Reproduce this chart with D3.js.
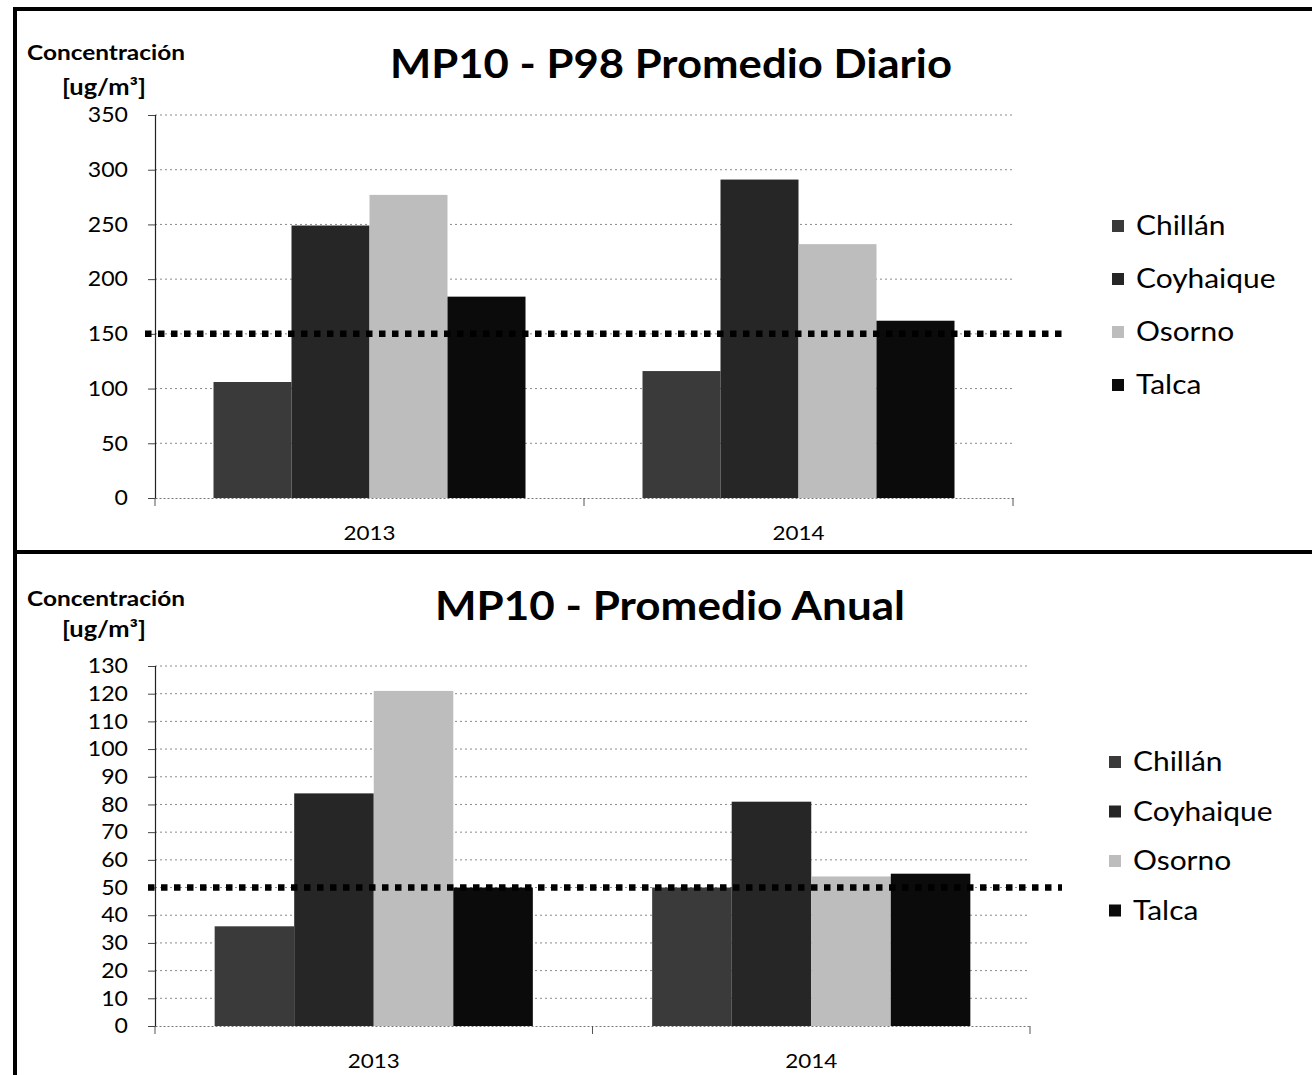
<!DOCTYPE html>
<html><head><meta charset="utf-8">
<script src="https://cdn.jsdelivr.net/npm/d3@7"></script>
<style>body{margin:0;background:#fff}svg{display:block}text{font-family:Lato,"Open Sans",sans-serif;fill:#000}</style>
</head><body>
<svg id="c" width="1312" height="1075"></svg>
<script>
// ---------- data ----------
const categories = ["2013", "2014"];
const seriesNames = ["Chillán", "Coyhaique", "Osorno", "Talca"];
const seriesColors = ["#3a3a3a", "#262626", "#bdbdbd", "#0b0b0b"];

const p98Chillan   = [106, 116];
const p98Coyhaique = [249, 291];
const p98Osorno    = [277, 232];
const p98Talca     = [184, 162];
const p98Ticks     = [0, 50, 100, 150, 200, 250, 300, 350];
const p98Norma     = 150;

const anualChillan   = [36, 50];
const anualCoyhaique = [84, 81];
const anualOsorno    = [121, 54];
const anualTalca     = [50, 55];
const anualTicks     = [0, 10, 20, 30, 40, 50, 60, 70, 80, 90, 100, 110, 120, 130];
const anualNorma     = 50;

const yTitle1 = "Concentración";
const yTitle2 = "[ug/m³]";

// ---------- drawing ----------
const svg = d3.select("#c");
svg.append("rect").attr("width", 1312).attr("height", 1075).attr("fill", "#fff");

function stretch(sel, f) {
  sel.each(function () {
    const w = this.getComputedTextLength();
    d3.select(this).attr("textLength", w * f).attr("lengthAdjust", "spacingAndGlyphs");
  });
}

function drawChart(cfg) {
  const g = svg.append("g");
  const table = categories.map((c, i) => ({
    cat: c,
    vals: cfg.series.map((arr, s) => ({ name: seriesNames[s], v: arr[i], color: seriesColors[s] }))
  }));
  const y = d3.scaleLinear().domain([0, d3.max(cfg.ticks)]).range([cfg.y0, cfg.yTop]);
  const x0 = d3.scaleBand().domain(categories).range([cfg.xL, cfg.xR]).padding(0);
  const barW = x0.bandwidth() / 5.5;
  const x1 = d3.scaleBand().domain(seriesNames).range([barW * 0.75, barW * 4.75]).padding(0);

  // gridlines
  g.append("g").selectAll("line").data(cfg.ticks.filter(t => t > 0)).join("line")
    .attr("x1", cfg.xL).attr("x2", cfg.xR)
    .attr("y1", d => y(d)).attr("y2", d => y(d))
    .attr("stroke", "#8a8a8a").attr("stroke-width", 1).attr("stroke-dasharray", "2,3");

  // bars
  const grp = g.append("g").selectAll("g").data(table).join("g")
    .attr("transform", d => `translate(${x0(d.cat)},0)`);
  grp.selectAll("rect").data(d => d.vals).join("rect")
    .attr("x", d => x1(d.name)).attr("width", x1.bandwidth())
    .attr("y", d => y(d.v)).attr("height", d => y(0) - y(d.v))
    .attr("fill", d => d.color);

  // y axis
  const ya = d3.axisLeft(y).tickValues(cfg.ticks).tickSize(7).tickPadding(20);
  const yg = g.append("g").attr("transform", `translate(${cfg.xL},0)`).call(ya);
  yg.select(".domain").attr("stroke", "#222").attr("stroke-width", 1.2);
  yg.selectAll(".tick line").attr("stroke", "#444");
  yg.selectAll("text").attr("font-size", 21).attr("font-family", "Lato,sans-serif").attr("fill", "#000");
  stretch(yg.selectAll("text"), 1.1);

  // x axis
  const xa = d3.axisBottom(x0).tickSize(0).tickPadding(28);
  const xg = g.append("g").attr("transform", `translate(0,${cfg.y0})`).call(xa);
  xg.select(".domain").attr("stroke", "#777").attr("stroke-dasharray", "2,2");
  xg.selectAll("text").attr("font-size", 20).attr("font-family", "Lato,sans-serif").attr("fill", "#000");
  stretch(xg.selectAll("text"), 1.12);
  const bounds = [cfg.xL, ...categories.map(c => x0(c) + x0.bandwidth())];
  xg.append("g").selectAll("line").data(bounds).join("line")
    .attr("x1", d => d).attr("x2", d => d).attr("y1", 0).attr("y2", 8)
    .attr("stroke", "#555");

  // threshold dotted line
  g.append("line")
    .attr("x1", cfg.normX1).attr("x2", cfg.normX2)
    .attr("y1", y(cfg.norma)).attr("y2", y(cfg.norma))
    .attr("stroke", "#000").attr("stroke-width", 6.5).attr("stroke-dasharray", "6.5,6.5");

  // titles
  g.append("text").attr("x", cfg.titleX).attr("y", cfg.titleY)
    .attr("text-anchor", "middle").attr("font-size", 40).attr("font-weight", 700)
    .attr("textLength", cfg.titleW).attr("lengthAdjust", "spacingAndGlyphs")
    .text(cfg.title);
  g.append("text").attr("x", 106).attr("y", cfg.ytY1).attr("text-anchor", "middle")
    .attr("font-size", 20).attr("font-weight", 700).attr("textLength", 158).attr("lengthAdjust", "spacingAndGlyphs")
    .text(yTitle1);
  g.append("text").attr("x", 104).attr("y", cfg.ytY2).attr("text-anchor", "middle")
    .attr("font-size", 22).attr("font-weight", 700).attr("textLength", 84).attr("lengthAdjust", "spacingAndGlyphs")
    .text(yTitle2);

  // legend
  const lg = g.append("g").selectAll("g").data(seriesNames).join("g")
    .attr("transform", (d, i) => `translate(${cfg.legX},${cfg.legY0 + i * cfg.legStep})`);
  lg.append("rect").attr("x", 0).attr("y", -6).attr("width", 12).attr("height", 12)
    .attr("fill", (d, i) => seriesColors[i]);
  const lt = lg.append("text").attr("x", 24).attr("y", 9).attr("font-size", 26).text(d => d);
  stretch(lt, 1.15);
}

drawChart({
  series: [p98Chillan, p98Coyhaique, p98Osorno, p98Talca], ticks: p98Ticks, norma: p98Norma,
  y0: 498, yTop: 115, xL: 155, xR: 1013, normX1: 145, normX2: 1062,
  title: "MP10 - P98 Promedio Diario", titleX: 671, titleY: 78, titleW: 562,
  ytY1: 60, ytY2: 95, legX: 1112, legY0: 226, legStep: 53
});
drawChart({
  series: [anualChillan, anualCoyhaique, anualOsorno, anualTalca], ticks: anualTicks, norma: anualNorma,
  y0: 1026, yTop: 666, xL: 155, xR: 1030, normX1: 148, normX2: 1062,
  title: "MP10 - Promedio Anual", titleX: 670, titleY: 620, titleW: 470,
  ytY1: 606, ytY2: 637, legX: 1109, legY0: 762, legStep: 49.5
});

// frame
svg.append("line").attr("x1", 15).attr("x2", 15).attr("y1", 7).attr("y2", 1075).attr("stroke", "#000").attr("stroke-width", 4);
svg.append("line").attr("x1", 13).attr("x2", 1312).attr("y1", 9).attr("y2", 9).attr("stroke", "#000").attr("stroke-width", 4);
svg.append("line").attr("x1", 13).attr("x2", 1312).attr("y1", 552).attr("y2", 552).attr("stroke", "#000").attr("stroke-width", 4);
</script>
</body></html>
